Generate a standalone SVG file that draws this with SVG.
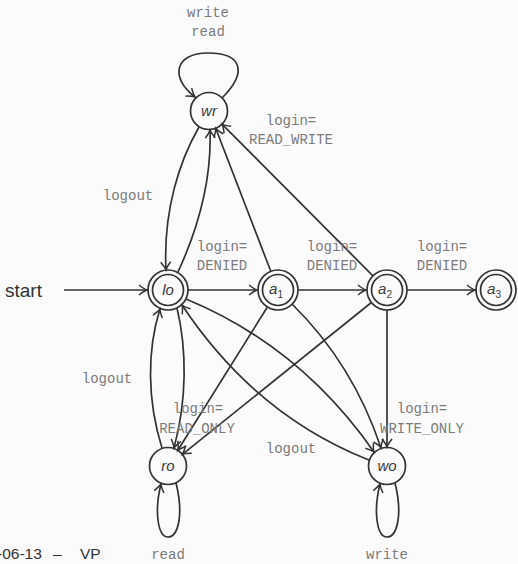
<svg xmlns="http://www.w3.org/2000/svg" width="518" height="564" viewBox="0 0 518 564">
  <style>
    .bg { fill: #fbfbfb; }
    .node circle { fill: none; stroke: #333; stroke-width: 1.7; }
    .node text { font-family: "Liberation Sans", Arial, sans-serif; font-style: italic; font-size: 15px; fill: #3a3a3a; text-anchor: middle; }
    .node .sub { font-size: 10px; font-style: normal; }
    .edges path { fill: none; stroke: #333; stroke-width: 1.7; marker-end: url(#arr); }
    .lbl { font-family: "Liberation Mono", "Courier New", monospace; font-size: 14px; fill: #7c7c7c; text-anchor: middle; }
    .sans { font-family: "Liberation Sans", Arial, sans-serif; fill: #333; }
  </style>
  <defs>
    <marker id="arr" viewBox="-10 -6 12 12" refX="0" refY="0" markerWidth="12" markerHeight="12" orient="auto" markerUnits="userSpaceOnUse" overflow="visible">
      <path d="M -8,-5 Q -3,-1 0,0 Q -3,1 -8,5" fill="none" stroke="#333" stroke-width="1.5"/>
    </marker>
  </defs>

  <rect class="bg" x="0" y="0" width="518" height="564"/>

  <!-- transitions -->
  <g id="edges" class="edges">
    <path d="M 64,290 L 147,290"/>
    <path d="M 188,290 L 257,290"/>
    <path d="M 298,290 L 366,290"/>
    <path d="M 407,290 L 475,290"/>
    <!-- wr self loop -->
    <path d="M 222,98 C 248,72 242,53 208,53 C 174,53 170,78 195,97"/>
    <!-- lo <-> wr -->
    <path d="M 178,272 C 195,235 212,185 210,130"/>
    <path d="M 199,127 C 180,160 163,210 166,270"/>
    <!-- a1, a2 -> wr -->
    <path d="M 270.8,271.3 L 215.7,128.3"/>
    <path d="M 372.9,275.8 L 222,124.1"/>
    <!-- a1, a2 -> ro -->
    <path d="M 267.4,307 L 177.8,450.3"/>
    <path d="M 371.4,302.5 L 182.4,454.4"/>
    <!-- a1, a2, lo -> wo -->
    <path d="M 387,310 L 387,447"/>
    <path d="M 292,304 Q 353,364 381,448"/>
    <path d="M 186,299 Q 300,346 374,452"/>
    <!-- wo -> lo -->
    <path d="M 369,460 Q 255,415 182,305"/>
    <!-- lo <-> ro -->
    <path d="M 177,308 C 187,350 187,400 174,448"/>
    <path d="M 162,448 C 147,400 147,350 160,309"/>
    <!-- ro, wo self loops -->
    <path d="M 176,483 C 184,515 178,537 168,537 C 158,537 154,512 161,484"/>
    <path d="M 395,483 C 403,515 397,537 387,537 C 377,537 373,512 380,484"/>
  </g>

  <!-- states -->
  <g id="wr" class="node">
    <circle cx="209" cy="111" r="18.5"/>
    <text x="209" y="116">wr</text>
  </g>
  <g id="lo" class="node">
    <circle cx="168" cy="290" r="20"/>
    <circle cx="168" cy="290" r="15.5"/>
    <text x="168" y="295">lo</text>
  </g>
  <g id="a1" class="node">
    <circle cx="278" cy="290" r="20"/>
    <circle cx="278" cy="290" r="15.5"/>
    <text x="276" y="294">a<tspan class="sub" dy="4">1</tspan></text>
  </g>
  <g id="a2" class="node">
    <circle cx="387" cy="290" r="20"/>
    <circle cx="387" cy="290" r="15.5"/>
    <text x="385" y="294">a<tspan class="sub" dy="4">2</tspan></text>
  </g>
  <g id="a3" class="node">
    <circle cx="496" cy="290" r="20"/>
    <circle cx="496" cy="290" r="15.5"/>
    <text x="494" y="294">a<tspan class="sub" dy="4">3</tspan></text>
  </g>
  <g id="ro" class="node">
    <circle cx="168" cy="466" r="18.5"/>
    <text x="168" y="471">ro</text>
  </g>
  <g id="wo" class="node">
    <circle cx="387" cy="466" r="18.5"/>
    <text x="387" y="471">wo</text>
  </g>

  <!-- transition labels -->
  <g id="labels">
    <text class="lbl" x="208" y="17">write</text>
    <text class="lbl" x="208" y="36">read</text>
    <text class="lbl" x="291" y="125">login=</text>
    <text class="lbl" x="291" y="144">READ_WRITE</text>
    <text class="lbl" x="128" y="200">logout</text>
    <text class="lbl" x="222" y="251">login=</text>
    <text class="lbl" x="222" y="270">DENIED</text>
    <text class="lbl" x="332" y="251">login=</text>
    <text class="lbl" x="332" y="270">DENIED</text>
    <text class="lbl" x="442" y="251">login=</text>
    <text class="lbl" x="442" y="270">DENIED</text>
    <text class="lbl" x="107" y="383">logout</text>
    <text class="lbl" x="198" y="413">login=</text>
    <text class="lbl" x="197" y="433">READ_ONLY</text>
    <text class="lbl" x="422" y="413">login=</text>
    <text class="lbl" x="422" y="433">WRITE_ONLY</text>
    <text class="lbl" x="291" y="453">logout</text>
    <text class="lbl" x="168" y="559">read</text>
    <text class="lbl" x="387" y="559">write</text>
  </g>

  <text class="sans" x="5" y="297" font-size="19">start</text>
  <text class="sans" y="559" font-size="15.5"><tspan x="-3">-06-13</tspan><tspan x="53">–</tspan><tspan x="80">VP</tspan></text>
</svg>
